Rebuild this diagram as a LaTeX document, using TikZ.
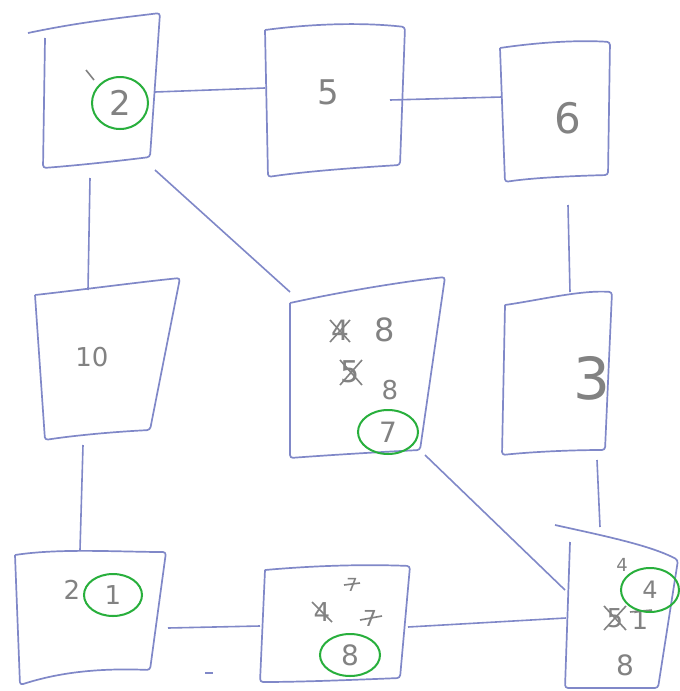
\documentclass[tikz,border=0pt]{standalone}
\usepackage{fontspec}
\setmainfont{DejaVu Sans}
\definecolor{penblue}{RGB}{128,136,200}
\definecolor{pencil}{RGB}{130,130,130}
\definecolor{circgreen}{RGB}{40,175,60}
\newcommand{\fsz}[1]{\fontsize{#1}{#1}\selectfont}
\tikzset{
  boxline/.style={draw=penblue, line width=1.7pt, line join=round, rounded corners=3pt},
  conn/.style={draw=penblue, line width=1.6pt},
  num/.style={text=pencil, inner sep=0pt, font=\fsz{34}\selectfont},
  ring/.style={draw=circgreen, line width=2pt},
  strike/.style={draw=pencil, line width=1.6pt}
}
\begin{document}
\begin{tikzpicture}[x=1pt,y=-1pt]
\useasboundingbox (0,0) rectangle (680,691);
\fill[white] (0,0) rectangle (680,691);
% boxes
\draw[boxline] (28,33) .. controls (80,22) and (120,18) .. (160,13) -- (150,157) .. controls (110,162) and (70,166) .. (43,168) -- (45,38);
\draw[boxline] (265,30) .. controls (310,24) and (360,22) .. (405,27) -- (400,165) .. controls (350,168) and (300,172) .. (268,177) -- (265,30);
\draw[boxline] (500,48) .. controls (540,42) and (580,40) .. (610,42) -- (608,175) .. controls (570,176) and (530,178) .. (505,182) -- (500,48);
\draw[boxline] (35,295) .. controls (80,290) and (140,282) .. (180,278) -- (150,430) .. controls (110,432) and (70,436) .. (45,440) -- (35,295);
\draw[boxline] (290,303) .. controls (340,292) and (400,282) .. (445,277) -- (420,450) .. controls (380,452) and (330,455) .. (290,458) -- (290,303);
\draw[boxline] (505,305) .. controls (540,300) and (580,290) .. (612,292) -- (605,450) .. controls (570,450) and (530,452) .. (502,455) -- (505,305);
\draw[boxline] (15,555) .. controls (60,548) and (120,552) .. (166,552) -- (150,670) .. controls (100,668) and (60,672) .. (20,685) -- (15,555);
\draw[boxline] (265,570) .. controls (310,566) and (360,564) .. (410,566) -- (400,678) .. controls (350,680) and (300,682) .. (260,682) -- (265,570);
\draw[boxline] (555,525) .. controls (600,535) and (650,545) .. (678,560) -- (658,688) .. controls (630,688) and (590,688) .. (565,688) -- (570,542);
% nodes (labels)
\node[num] (n2) at (120,103) {2};
\draw[strike] (86,70) -- (94,80);
\node[num] (n5) at (328,92) {5};
\node[num, font=\fsz{42}\selectfont] (n6) at (568,118) {6};
\node[num, font=\fsz{26}\selectfont] (n10) at (92,357) {10};
\node[num, font=\fsz{58}\selectfont] (n3) at (592,378) {3};
\node[num, font=\fsz{28}\selectfont] (n7a) at (340,330) {4};
\draw[strike] (330,320) -- (350,342) (350,320) -- (330,342);
\node[num, font=\fsz{32}\selectfont] (n7b) at (385,330) {8};
\node[num, font=\fsz{30}\selectfont] (n7c) at (350,372) {5};
\draw[strike] (340,360) -- (362,385) (362,360) -- (340,385);
\node[num, font=\fsz{26}\selectfont] (n7d) at (390,390) {8};
\node[num, font=\fsz{28}\selectfont] (n7) at (388,432) {7};
\node[num, font=\fsz{26}\selectfont] (n1a) at (72,590) {2};
\node[num, font=\fsz{26}\selectfont] (n1) at (113,595) {1};
\node[num, font=\fsz{18}\selectfont] (n8a) at (352,585) {7};
\draw[strike] (344,585) -- (360,583);
\node[num, font=\fsz{26}\selectfont] (n8b) at (322,612) {4};
\draw[strike] (312,602) -- (332,622);
\node[num, font=\fsz{22}\selectfont] (n8c) at (370,618) {7};
\draw[strike] (360,620) -- (382,616);
\node[num, font=\fsz{28}\selectfont] (n8) at (350,655) {8};
\node[num, font=\fsz{18}\selectfont] (n4a) at (622,565) {4};
\node[num, font=\fsz{24}\selectfont] (n4) at (650,590) {4};
\node[num, font=\fsz{26}\selectfont] (n4b) at (615,618) {5};
\draw[strike] (604,606) -- (626,630) (626,606) -- (604,630);
\node[num, font=\fsz{26}\selectfont] (n4c) at (640,620) {1};
\draw[strike] (630,612) -- (652,610);
\node[num, font=\fsz{28}\selectfont] (n4d) at (625,665) {8};
% circles
\draw[ring] (n2) ellipse [x radius=28, y radius=26];
\draw[ring] (n7) ellipse [x radius=30, y radius=22];
\draw[ring] (n1) ellipse [x radius=29, y radius=21];
\draw[ring] (n8) ellipse [x radius=30, y radius=21];
\draw[ring] (n4) ellipse [x radius=29, y radius=22];
% connector coordinates
\coordinate (a2r) at (155,92); \coordinate (a5l) at (265,88);
\coordinate (a5r) at (390,100); \coordinate (a6l) at (502,97);
\coordinate (a2b) at (90,178); \coordinate (a10t) at (88,290);
\coordinate (a2d) at (155,170); \coordinate (a7t) at (290,292);
\coordinate (a6b) at (568,205); \coordinate (a3t) at (570,292);
\coordinate (a10b) at (83,445); \coordinate (a1t) at (80,550);
\coordinate (a7d) at (425,455); \coordinate (a4l) at (565,590);
\coordinate (a3b) at (597,460); \coordinate (a4t) at (600,527);
\coordinate (a1r) at (168,628); \coordinate (a8l) at (260,626);
\coordinate (a8r) at (408,627); \coordinate (a4m) at (566,618);
\coordinate (dashA) at (205,673); \coordinate (dashB) at (213,673);
\draw[conn] (a2r) -- (a5l);
\draw[conn] (a5r) -- (a6l);
\draw[conn] (a2b) -- (a10t);
\draw[conn] (a2d) -- (a7t);
\draw[conn] (a6b) -- (a3t);
\draw[conn] (a10b) -- (a1t);
\draw[conn] (a7d) -- (a4l);
\draw[conn] (a3b) -- (a4t);
\draw[conn] (a1r) -- (a8l);
\draw[conn] (a8r) -- (a4m);
\draw[conn] (dashA) -- (dashB);
\end{tikzpicture}
\end{document}
